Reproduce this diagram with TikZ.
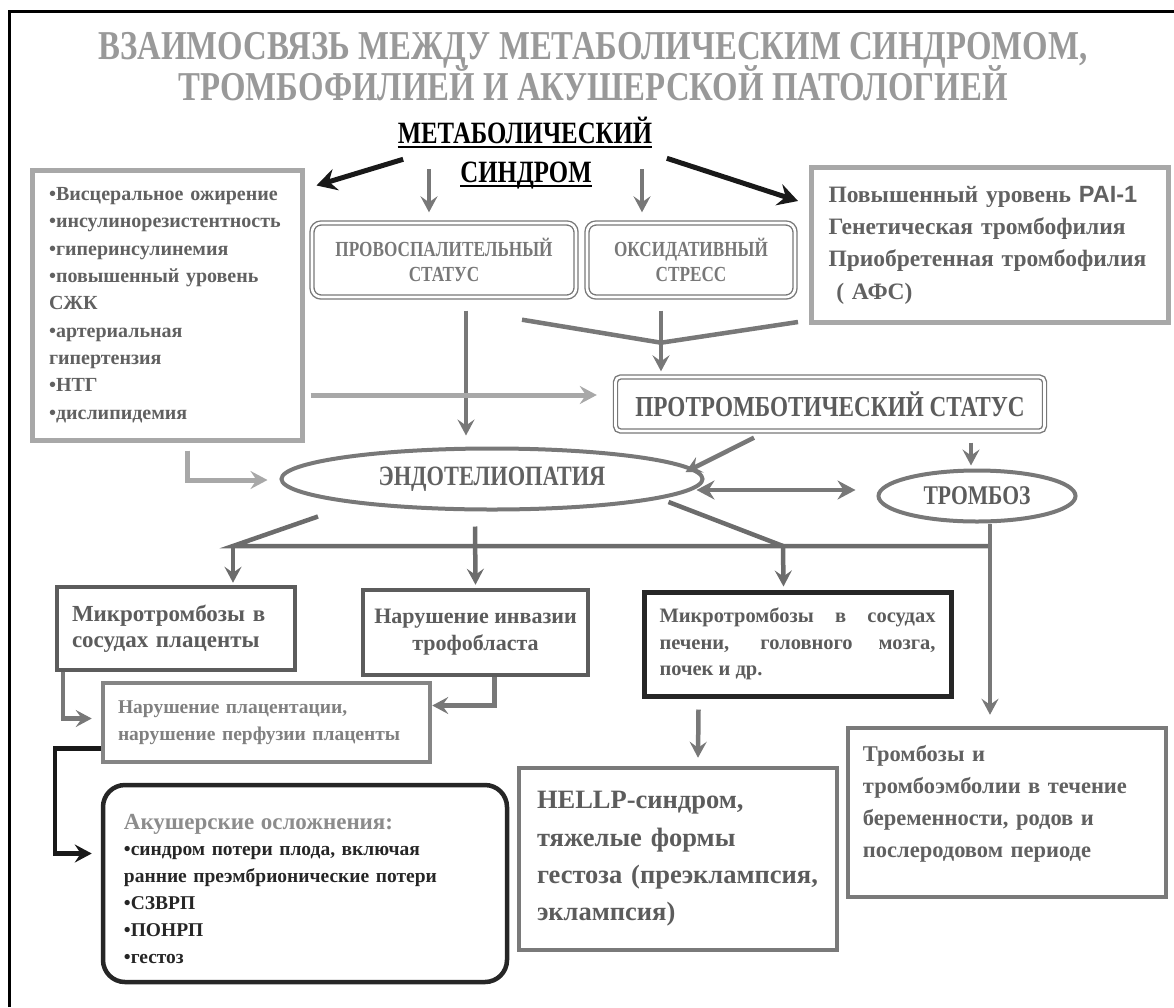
\documentclass[tikz,border=0pt]{standalone}
\usepackage{fontspec}
\setmainfont{Liberation Serif}
\newfontfamily\narrowfont{Liberation Serif Bold}[FakeStretch=0.8]
\newfontfamily\paifont{Liberation Sans}
\usetikzlibrary{arrows.meta,shapes.geometric}

\definecolor{titlegray}{gray}{0.6}
\definecolor{textgray}{gray}{0.38}
\definecolor{softgray}{gray}{0.47}
\definecolor{litegray}{gray}{0.66}
\definecolor{midgray}{gray}{0.47}
\definecolor{darkgray}{gray}{0.36}

\begin{document}
\begin{tikzpicture}[
    x=1pt, y=-1pt,
    % text styles
    titletext/.style={anchor=base, inner sep=0pt, text=titlegray,
        font=\narrowfont\fontsize{41}{41}\selectfont},
    mstext/.style={anchor=base, inner sep=0pt, text=black,
        font=\narrowfont\fontsize{31}{31}\selectfont},
    inbox/.style={anchor=north west, inner sep=0pt, align=left},
    % boxes
    litebox/.style={draw=litegray, line width=5pt, inner sep=0pt, align=left},
    plainbox/.style={draw=darkgray, line width=4.5pt, inner sep=0pt},
    dblbox/.style={draw=midgray, line width=1.4pt, double=white, double distance=2.6pt,
        rounded corners=9pt, inner sep=0pt, align=center, text=softgray},
    oval/.style={ellipse, draw=midgray, line width=4pt, inner sep=0pt, text=textgray},
    % connectors
    blkarr/.style={line width=5pt, draw=black!90, -{Stealth[length=20pt,width=22pt,inset=7pt]}},
    garr/.style={line width=4.5pt, draw=midgray, -{Stealth[length=16pt,width=17pt,inset=6pt]}},
    larr/.style={line width=5pt, draw=litegray, -{Stealth[length=17pt,width=18pt,inset=6pt]}},
    darr/.style={line width=4.5pt, draw=darkgray!90, -{Stealth[length=16pt,width=17pt,inset=6pt]}},
    gline/.style={line width=4.5pt, draw=midgray},
    dline/.style={line width=4.5pt, draw=darkgray!90}
]
    \useasboundingbox (0,0) rectangle (1174,1007);

    % --- Frame ---
    \draw[line width=3pt] (9,1007) -- (9,11) -- (1174,11);

    % --- Title ---
    \node[titletext] (title1) at (593,59) {ВЗАИМОСВЯЗЬ МЕЖДУ МЕТАБОЛИЧЕСКИМ СИНДРОМОМ,};
    \node[titletext] (title2) at (593,100) {ТРОМБОФИЛИЕЙ И АКУШЕРСКОЙ ПАТОЛОГИЕЙ};

    % --- Metabolic syndrome ---
    \node[mstext] (ms1) at (525,143) {МЕТАБОЛИЧЕСКИЙ};
    \node[mstext] (ms2) at (526,182) {СИНДРОМ};
    \draw[line width=2.5pt] ([shift={(0,4)}]ms1.base west) -- ([shift={(0,4)}]ms1.base east);
    \draw[line width=2.5pt] ([shift={(0,4)}]ms2.base west) -- ([shift={(0,4)}]ms2.base east);

    % --- Top row ---
    \node[litebox, minimum width=270, minimum height=270, text width=236, text=textgray,
        font=\bfseries\fontsize{20}{27.3}\selectfont] (risk) at (167,305)
        {•Висцеральное ожирение\\•инсулинорезистентность\\•гиперинсулинемия\\
         •повышенный уровень\\СЖК\\•артериальная\\гипертензия\\•НТГ\\•дислипидемия};

    \node[litebox, minimum width=357, minimum height=155, text width=323, text=textgray,
        font=\bfseries\fontsize{23.5}{32.3}\selectfont] (throm) at (990,245)
        {Повышенный уровень {\paifont PAI-1}\\Генетическая тромбофилия\\
         Приобретенная тромбофилия\\\ ( АФС)};

    \node[dblbox, minimum width=264, minimum height=74,
        font=\narrowfont\fontsize{21.5}{25.5}\selectfont] (prov) at (444,260)
        {ПРОВОСПАЛИТЕЛЬНЫЙ\\СТАТУС};
    \node[dblbox, minimum width=208, minimum height=74,
        font=\narrowfont\fontsize{21.5}{25.5}\selectfont] (oxid) at (691,260)
        {ОКСИДАТИВНЫЙ\\СТРЕСС};

    \node[dblbox, rounded corners=5pt, minimum width=429, minimum height=54, text=darkgray,
        font=\narrowfont\fontsize{29}{29}\selectfont] (prot) at (830,404)
        {ПРОТРОМБОТИЧЕСКИЙ СТАТУС};

    % --- Ovals ---
    \node[oval, minimum width=421, minimum height=61,
        font=\narrowfont\fontsize{28}{28}\selectfont] (endo) at (492,479) {ЭНДОТЕЛИОПАТИЯ};
    \node[oval, minimum width=197, minimum height=51, text=darkgray,
        font=\narrowfont\fontsize{27}{27}\selectfont] (tromb) at (977,496) {ТРОМБОЗ};

    % --- Lower boxes ---
    \node[plainbox, minimum width=238, minimum height=83, text width=208, align=left, text=darkgray,
        font=\bfseries\fontsize{23}{26.5}\selectfont] (mpl) at (176,628.5)
        {Микротромбозы в\\сосудах плаценты};
    \node[plainbox, minimum width=225, minimum height=85, align=center, text=darkgray,
        font=\bfseries\fontsize{22}{27}\selectfont] (inv) at (475.5,632.5)
        {Нарушение инвазии\\трофобласта};
    \node[plainbox, draw=black!85, line width=5pt, minimum width=307, minimum height=104,
        text width=276, align=justify, text=darkgray,
        font=\bfseries\fontsize{20.5}{26.5}\selectfont] (morg) at (797.5,644)
        {Микротромбозы в сосудах\linebreak печени, головного мозга,\linebreak почек и др.};
    \node[plainbox, draw=black!48, minimum width=327, minimum height=79, text width=297,
        align=left, text=black!50, font=\bfseries\fontsize{19.5}{27}\selectfont] (plac) at (266.5,722.5)
        {Нарушение плацентации,\\нарушение перфузии плаценты};
    \node[draw=black!85, line width=4.5pt, rounded corners=22pt, inner sep=0pt,
        minimum width=404, minimum height=197] (obst) at (305,883.5) {};
    \node[inbox, text width=370, text=black!85, font=\bfseries\fontsize{19.5}{26.8}\selectfont]
        (obsttext) at ([shift={(23,31)}]obst.north west)
        {\textcolor{black!45}{\fontsize{23}{27}\selectfont Акушерские осложнения:}\\
         •синдром потери плода, включая\\ранние преэмбрионические потери\\
         •СЗВРП\\•ПОНРП\\•гестоз};
    \node[plainbox, draw=black!52, minimum width=318, minimum height=182, text width=282,
        align=left, text=darkgray, font=\bfseries\fontsize{26.5}{37.3}\selectfont] (hellp) at (678,859)
        {HELLP-синдром,\\тяжелые формы\\гестоза (преэклампсия,\\эклампсия)};
    \node[plainbox, draw=black!52, minimum width=318, minimum height=169] (tpreg) at (1007,812.5) {};
    \node[inbox, text width=290, text=textgray, font=\bfseries\fontsize{22.5}{32}\selectfont]
        (tpregtext) at ([shift={(17,19)}]tpreg.north west)
        {Тромбозы и\\тромбоэмболии в течение\\беременности, родов и\\послеродовом периоде};

    % --- Junctions ---
    \coordinate (jp) at ([shift={(-30,45)}]oxid.south);
    \coordinate (bl) at (233,546);
    \coordinate (bm) at (783,546);
    \coordinate (br) at (990,546);

    % --- Arrows from metabolic syndrome ---
    \draw[blkarr] ([shift={(-57,-2)}]ms2.north west) -- ([shift={(12,18)}]risk.north east);
    \draw[blkarr] ([shift={(75,-3)}]ms2.north east) -- ([shift={(-11,36)}]throm.north west);
    \draw[garr] ([shift={(-15,-53)}]prov.north) -- ([shift={(-15,-10)}]prov.north);
    \draw[garr] ([shift={(-49,-53)}]oxid.north) -- ([shift={(-49,-10)}]oxid.north);

    % --- Middle connectors ---
    \draw[garr] ([shift={(22,13)}]prov.south) -- ([shift={(-26,-11)}]endo.north);
    \draw[gline] ([shift={(78,22)}]prov.south) -- (jp) -- ([shift={(-11,-3)}]throm.south west);
    \draw[garr] ([shift={(-30,13)}]oxid.south) -- ([shift={(-169,-5)}]prot.north);
    \draw[larr] ([shift={(6,90)}]risk.east) -- ([shift={(-18,-9)}]prot.west);
    \draw[larr] ([shift={(20,8)}]risk.south) |- ([shift={(-12,1)}]endo.west);
    \draw[garr] ([shift={(-76,6)}]prot.south) -- ([shift={(-19,-7)}]endo.east);
    \draw[garr] ([shift={(141,11)}]prot.south) -- ([shift={(-6,-3)}]tromb.north);
    \draw[garr, {Stealth[length=18pt,width=19pt,inset=6pt]}-{Stealth[length=18pt,width=19pt,inset=6pt]}]
        ([shift={(-8,11)}]endo.east) -- ([shift={(-21,-6)}]tromb.west);

    % --- Branches ---
    \draw[dline] ([shift={(-174,5)}]endo.south) -- (bl) -- (br);
    \draw[darr] (bl) -- ([shift={(57,-2)}]mpl.north);
    \draw[darr] ([shift={(-17,15)}]endo.south) -- ([shift={(0,-3)}]inv.north);
    \draw[dline] ([shift={(-36,23)}]endo.east) -- (bm);
    \draw[darr] (bm) -- ([shift={(-14,-3)}]morg.north);
    \draw[garr, line width=3.5pt] ([shift={(13,0)}]tromb.south) -- ([shift={(-17,-11)}]tpreg.north);

    % --- Bottom connectors ---
    \draw[garr] ([shift={(8,0)}]mpl.south west) |- ([shift={(-9,-4)}]plac.west);
    \draw[garr] ([shift={(19,0)}]inv.south) |- ([shift={(0,-17)}]plac.east);
    \draw[blkarr, line width=4.5pt, -{Stealth[length=17pt,width=18pt,inset=6pt]}]
        ([shift={(0,26)}]plac.west) -- ++(-46,0) |- ([shift={(-9,-30)}]obst.west);
    \draw[garr] ([shift={(-99,11)}]morg.south) -- ([shift={(20,-8)}]hellp.north);

\end{tikzpicture}
\end{document}
